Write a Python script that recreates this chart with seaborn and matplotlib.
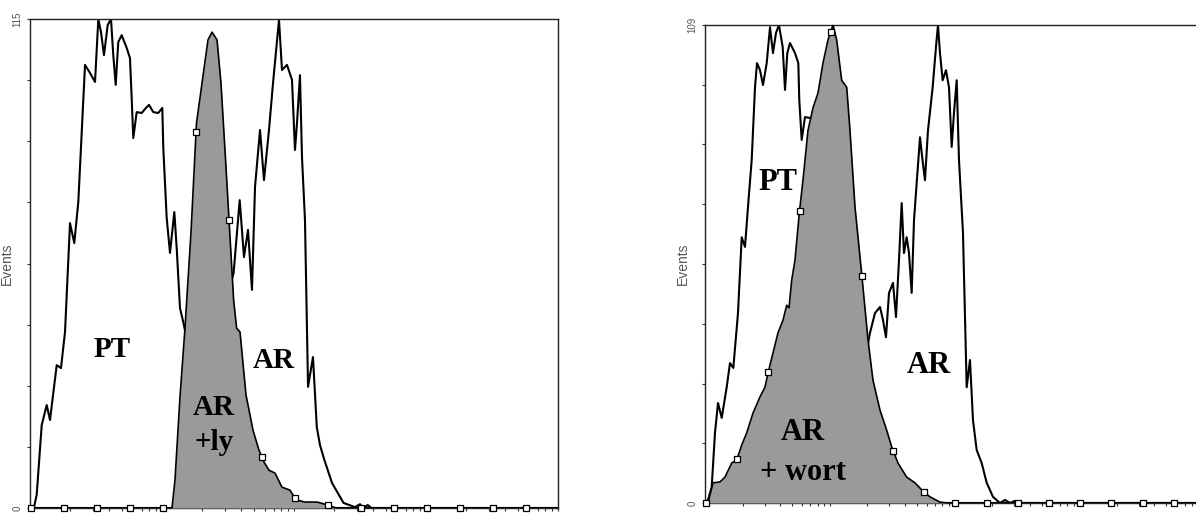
import numpy as np
import pandas as pd
import matplotlib
matplotlib.use("Agg")
import matplotlib.pyplot as plt
import seaborn as sns

# ---------------- data (channel 0-1024 on a 4-decade log axis, events) ----------------
# Left panel: PT, AR and AR + ly (filled)
left_pt_ch = [0, 7.8, 13, 22.7, 32.4, 38.8, 51.8, 60.1, 67.9, 77.6, 85.9, 93.7, 106.7, 116.4,
              126.1, 132.5, 137.7, 143.5, 150.7, 157.1, 161.5, 166.2, 171.2, 177.8, 187.5, 193.9,
              197.2, 200.3, 206.9, 216.6, 225, 230.8, 239.1, 248.8, 256.6, 258.5, 265.1, 271.5,
              279.9, 284.5, 290.9, 297.3, 302.5, 310.3, 322, 1024]
left_pt_ev = [0, 0.2, 3.1, 19.5, 24.2, 20.7, 33.6, 32.9, 41.4, 67.0, 62.3, 72.0, 104.2, 102.3,
              100.2, 115, 111.9, 106.5, 113.6, 115, 106.5, 99.5, 109.6, 111.2, 108.2, 105.8,
              96.4, 87.0, 93.1, 92.9, 94.1, 94.8, 93.1, 92.9, 94.1, 84.7, 68.2, 60.0,
              69.6, 61.1, 47.0, 43.7, 40.7, 25.4, 0, 0]

left_ar_ch = [0, 358.8, 385.9, 394.9, 406.7, 415.0, 422.8, 430.5, 436.4, 446.1, 453.8, 463.5,
              471.3, 482.9, 488.7, 498.4, 508.1, 513.9, 517.8, 523.6, 527.5, 533.3, 539.2,
              548.8, 556.2, 562.4, 570.9, 585.7, 608, 630.3, 640, 646, 655, 662, 1024]
left_ar_ev = [0, 0, 51.3, 55.3, 72.4, 59.0, 65.4, 51.3, 75.5, 88.9, 77.1, 88.9,
              99.9, 114.8, 103.0, 104.2, 100.7, 84.2, 90.5, 101.8, 82.5, 67.7, 28.5,
              35.5, 19.0, 14.8, 11.3, 5.9, 1.2, 0.2, 0.9, 0, 0.7, 0, 0]

left_treated_ch = [0, 275.4, 281.2, 290.9, 300.6, 312.2, 322.9, 333.6, 345.2, 353.0, 362.7,
                   370.4, 380.1, 387.9, 394.9, 400.7, 407.3, 418.9, 432.5, 444.1, 453.8, 463.5,
                   475.2, 488.7, 504.2, 515.9, 533.3, 556.6, 577.9, 593.5, 1024]
left_treated_ev = [0, 0, 6.6, 26.1, 42.3, 64.7, 90.5, 99.9, 110.1, 111.9, 110.1,
                   99.9, 80.2, 63.7, 48.9, 42.3, 41.4, 26.6, 18.3, 13.6, 10.8, 8.9,
                   8.2, 4.9, 4.2, 1.9, 1.4, 1.4, 0.7, 0, 0]

# Right panel: PT, AR and AR + wort (filled)
right_pt_ch = [0, 6.2, 13.7, 20.5, 26.7, 34.3, 44.5, 51.3, 58.1, 67.7, 75.3, 82.1, 88.2, 95.8,
               102.6, 106.7, 112.9, 119.0, 126.6, 133.4, 139.5, 145.7, 151.8, 159.4, 164.2,
               168.9, 174.4, 184.7, 191.5, 193.5, 198.4, 205.2, 215.5, 223.7, 231.9, 246.2,
               266.8, 1024]
right_pt_ev = [0, 0.7, 3.6, 16.0, 22.8, 19.4, 26.4, 31.9, 30.8, 43.3, 60.6, 58.4, 67.5, 78.2,
               94.8, 100.3, 98.7, 95.3, 100.3, 108.5, 102.6, 107.2, 109, 104.0, 94.2,
               102.6, 104.9, 102.6, 100.3, 91.9, 82.8, 88.0, 87.8, 88.0, 82.8, 46.3,
               0, 0]

right_ar_ch = [0, 307.8, 328.3, 338.6, 348.8, 359.1, 365.3, 371.4, 377.6, 385.8, 391.9, 398.1,
               403.6, 408.3, 413.9, 418.6, 424.1, 428.9, 434.4, 441.2, 444.7, 451.4, 457.6,
               467.2, 474.0, 478.1, 482.2, 487.7, 494.5, 500.7, 506.2, 510.9, 516.5, 521.2,
               529.4, 537.0, 543.8, 549.9, 557.5, 567.8, 578.1, 591.0, 605.3, 615.6, 625.9,
               636, 646, 1024]
right_ar_ev = [0, 0, 32.6, 38.8, 43.3, 44.7, 41.7, 37.8, 47.9, 50.2, 42.4, 55.4,
               68.4, 57.0, 60.6, 57.0, 47.9, 64.5, 73.0, 83.4, 79.8, 73.6, 85.0,
               94.8, 104.0, 109, 102.6, 96.4, 98.7, 94.8, 81.2, 88.9, 96.4, 78.2,
               61.6, 26.4, 32.6, 18.9, 12.1, 9.1, 4.6, 1.4, 0, 0.7, 0,
               0.5, 0, 0]

right_treated_ch = [0, 6.2, 16.4, 30.8, 41.0, 54.8, 65.0, 75.3, 85.6, 98.5, 112.9, 123.1, 129.3,
                    139.5, 149.8, 160.1, 167.6, 172.4, 177.9, 184.7, 193.5, 201.1, 211.4, 221.6,
                    231.9, 242.1, 252.4, 262.7, 270.2, 280.5, 290.8, 297.5, 307.8, 322.2, 334.5,
                    344.7, 359.1, 372.8, 383.1, 396.0, 413.9, 430.9, 444.7, 461.7, 482.2, 496.6,
                    1024]
right_treated_ev = [0, 0, 4.6, 4.8, 5.9, 9.1, 9.8, 13.2, 16.0, 20.5, 24.2, 26.4, 29.6,
                    34.2, 38.8, 41.7, 45.1, 44.5, 50.8, 55.4, 66.1, 73.6, 85.0, 90.1,
                    93.5, 100.3, 105.6, 109, 105.6, 96.4, 94.8, 85.0, 67.5, 51.5, 37.2,
                    28.0, 21.2, 16.6, 12.8, 9.1, 5.9, 4.6, 3.0, 1.4, 0.2, 0,
                    0]

marker_channels = [2, 66, 130, 194, 258, 322, 386, 450, 514, 578, 642, 706, 770, 834, 898, 962]

left_ymax = 115
right_ymax = 109
y_label = "Events"
left_texts = ["PT", "AR", "AR", "+ly"]
right_texts = ["PT", "AR", "AR", "+ wort"]

# ---------------- style ----------------
sns.set_style("ticks")
plt.rcParams["font.family"] = ["Liberation Sans", "DejaVu Sans"]

W, H = 1196, 514
fig = plt.figure(figsize=(W / 100, H / 100), dpi=100)
ax1 = fig.add_axes([30 / W, (H - 508) / H, 528 / W, 489 / H])
ax2 = fig.add_axes([705 / W, (H - 503) / H, 499 / W, 478 / H])

GREY = "#9a9a9a"
LW = 1.5


def draw_panel(ax, pt, ar, treated, ymax, texts, text_pos, fsize):
    pt_df = pd.DataFrame({"ch": pt[0], "ev": pt[1]})
    ar_df = pd.DataFrame({"ch": ar[0], "ev": ar[1]})
    tr_df = pd.DataFrame({"ch": treated[0], "ev": treated[1]})
    sns.lineplot(data=pt_df, x="ch", y="ev", ax=ax, color="black", lw=LW,
                 sort=False, estimator=None, zorder=2)
    sns.lineplot(data=ar_df, x="ch", y="ev", ax=ax, color="black", lw=LW,
                 sort=False, estimator=None, zorder=2)
    ax.fill_between(tr_df["ch"], 0, tr_df["ev"], color=GREY, lw=0, zorder=3)
    sns.lineplot(data=tr_df, x="ch", y="ev", ax=ax, color="black", lw=LW * 0.8,
                 sort=False, estimator=None, zorder=4)
    mk = pd.DataFrame({"ch": marker_channels,
                       "ev": np.interp(marker_channels, tr_df["ch"], tr_df["ev"])})
    sns.scatterplot(data=mk, x="ch", y="ev", ax=ax, marker="s", s=13,
                    facecolor="white", edgecolor="black", linewidth=0.9, zorder=5,
                    clip_on=False)

    ax.set_xlim(0, 1024)
    ax.set_ylim(0, ymax)
    major = [256 * d for d in range(5)]
    minor = [256 * (d + np.log10(k)) for d in range(4) for k in range(2, 10)]
    ax.set_xticks(major)
    ax.set_xticks(minor, minor=True)
    ax.set_xticklabels([])
    yt = np.linspace(0, ymax, 9)
    ax.set_yticks(yt)
    ax.set_yticklabels(["0"] + [""] * 7 + [str(ymax)], rotation=90, va="center",
                       fontsize=7, color="#555555")
    ax.tick_params(axis="both", which="both", direction="out", length=2.5, width=0.8,
                   color="#333333", pad=3)
    ax.set_xlabel("")
    ax.set_ylabel(y_label, fontsize=10, color="#555555")
    ax.yaxis.set_label_coords(-0.031, 0.5)
    for s in ax.spines.values():
        s.set_color("#222222")
        s.set_linewidth(1.0)

    for t, (x, y) in zip(texts, text_pos):
        ax.text(x, y, t, transform=ax.transAxes, ha="center", va="baseline",
                fontsize=fsize, fontweight="bold", color="black",
                family=["Liberation Serif", "DejaVu Serif"], zorder=6)


draw_panel(ax1, (left_pt_ch, left_pt_ev), (left_ar_ch, left_ar_ev),
           (left_treated_ch, left_treated_ev), left_ymax, left_texts,
           [(0.155, 0.309), (0.462, 0.286), (0.348, 0.190), (0.348, 0.119)], 21)
draw_panel(ax2, (right_pt_ch, right_pt_ev), (right_ar_ch, right_ar_ev),
           (right_treated_ch, right_treated_ev), right_ymax, right_texts,
           [(0.146, 0.655), (0.449, 0.272), (0.196, 0.132), (0.196, 0.048)], 22)

fig.savefig("out.png", dpi=100, facecolor="white")
